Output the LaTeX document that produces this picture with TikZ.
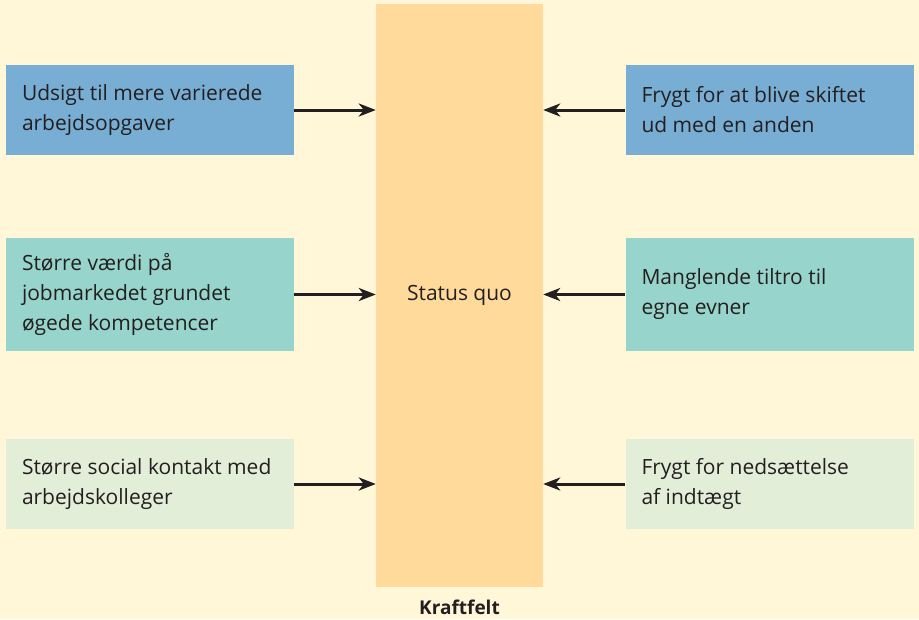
\documentclass[tikz,border=0pt]{standalone}
\usepackage{fontspec}
\setmainfont{Open Sans}
\usetikzlibrary{arrows.meta}
\definecolor{bgcream}{HTML}{FFF7D8}
\definecolor{barorange}{HTML}{FFDA9A}
\definecolor{boxblue}{HTML}{78AED4}
\definecolor{boxteal}{HTML}{96D4CC}
\definecolor{boxgreen}{HTML}{E2EED7}
\definecolor{inkgray}{HTML}{231F20}
% box text: left aligned lines, set slightly below the box centre
\newcommand{\forcelines}[1]{\raisebox{-3pt}{\parbox{256pt}{\raggedright #1}}}
\tikzset{
  force/.style={draw=none, minimum width=288pt, inner xsep=16pt,
    inner ysep=0pt, text=inkgray, font=\fontsize{21}{30}\selectfont},
  push/.style={draw=inkgray, line width=3pt, -{Stealth[length=17pt,width=13pt,inset=5pt]}},
}
\begin{document}
\begin{tikzpicture}[x=1pt,y=-1pt]
  \fill[bgcream] (0,0) rectangle (919,619);
  \useasboundingbox (0,0) rectangle (919,619);
  % the status quo bar
  \node[fill=barorange, minimum width=167pt, minimum height=583pt, inner sep=0pt,
        text=inkgray, font=\fontsize{21}{30}\selectfont] (bar) at (459.5,295.5) {\raisebox{-3pt}{Status quo}};
  \node[text=inkgray, font=\bfseries\fontsize{19}{22}\selectfont] (cap) at (459.5,607) {Kraftfelt};
  % driving forces (left)
  \node[force, fill=boxblue,  minimum height=90pt]  (l1) at (150,110)   {\forcelines{Udsigt til mere varierede\\arbejdsopgaver}};
  \node[force, fill=boxteal,  minimum height=113pt] (l2) at (150,294.5) {\forcelines{Større værdi på\\jobmarkedet grundet\\øgede kompetencer}};
  \node[force, fill=boxgreen, minimum height=90pt]  (l3) at (150,484)   {\forcelines{Større social kontakt med\\arbejdskolleger}};
  % restraining forces (right)
  \node[force, fill=boxblue,  minimum height=90pt]  (r1) at (769.5,110)   {\forcelines{Frygt for at blive skiftet\\ud med en anden}};
  \node[force, fill=boxteal,  minimum height=113pt] (r2) at (769.5,294.5) {\forcelines{Manglende tiltro til\\egne evner}};
  \node[force, fill=boxgreen, minimum height=90pt]  (r3) at (769.5,484)   {\forcelines{Frygt for nedsættelse\\af indtægt}};
  % arrows pushing on the bar
  \foreach \n in {l1,l2,l3}
    \draw[push] (\n.east) -- (\n.east -| bar.west);
  \foreach \n in {r1,r2,r3}
    \draw[push] (\n.west) -- (\n.west -| bar.east);
\end{tikzpicture}
\end{document}
